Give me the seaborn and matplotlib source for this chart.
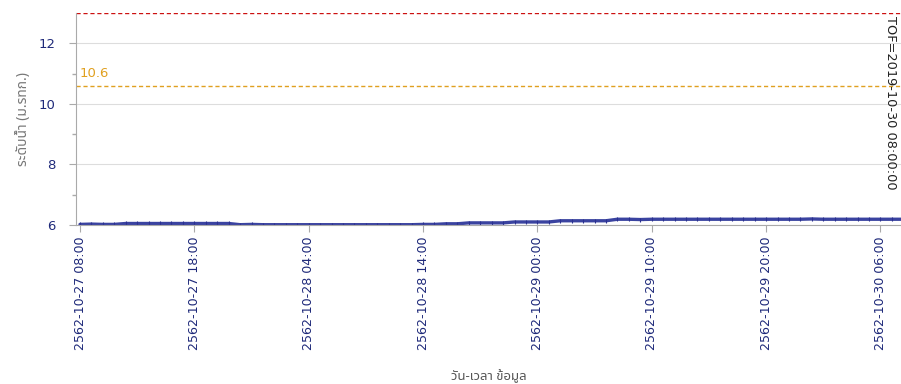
import numpy as np
import pandas as pd
import matplotlib
matplotlib.use("Agg")
import matplotlib.pyplot as plt
import seaborn as sns

# hourly water level readings, starting 2562-10-27 08:00
hours = list(range(0, 73))
levels = [
    6.02, 6.03, 6.02, 6.02, 6.05, 6.05, 6.05, 6.05, 6.05, 6.05,
    6.05, 6.05, 6.05, 6.05, 6.01, 6.02, 6.01, 6.01, 6.01, 6.01,
    6.01, 6.01, 6.01, 6.01, 6.01, 6.01, 6.01, 6.01, 6.01, 6.01,
    6.02, 6.02, 6.04, 6.04, 6.07, 6.07, 6.07, 6.07, 6.10, 6.10,
    6.10, 6.10, 6.14, 6.14, 6.14, 6.14, 6.14, 6.19, 6.19, 6.18,
    6.19, 6.19, 6.19, 6.19, 6.19, 6.19, 6.19, 6.19, 6.19, 6.19,
    6.19, 6.19, 6.19, 6.19, 6.20, 6.19, 6.19, 6.19, 6.19, 6.19,
    6.19, 6.19, 6.19,
]
tick_hours = [0, 10, 20, 30, 40, 50, 60, 70]
tick_labels = [
    "2562-10-27 08:00", "2562-10-27 18:00", "2562-10-28 04:00",
    "2562-10-28 14:00", "2562-10-29 00:00", "2562-10-29 10:00",
    "2562-10-29 20:00", "2562-10-30 06:00",
]
bank_level = 13.0
warn_level = 10.6
tof_text = "TOF=2019-10-30 08:00:00"

sns.set_theme(style="white")
plt.rcParams['font.family'] = ['DejaVu Sans', 'Noto Sans Thai']
thai_font = ['Noto Sans Thai', 'DejaVu Sans']

df = pd.DataFrame({'hour': hours, 'level': levels})

fig = plt.figure(figsize=(9.01, 3.84), dpi=100)
ax = fig.add_axes([76 / 901, 1 - 225 / 384, 825 / 901, 212 / 384])

sns.lineplot(data=df, x='hour', y='level', ax=ax, color='#3a43a0',
             linewidth=2.4, marker='|', markersize=3, markeredgewidth=0.8,
             markeredgecolor='#2a3090')

ax.axhline(bank_level, color='#cc1111', linestyle=(0, (3, 2)), linewidth=1)
ax.axhline(warn_level, color='#e0a020', linestyle=(0, (3, 2)), linewidth=1)
ax.text(0.0, warn_level + 0.2, "10.6", color='#e0a020', fontsize=9.5,
        ha='left', va='bottom')
ax.text(70.85, 12.9, tof_text, rotation=-90, fontsize=9.3, color='#222222',
        ha='center', va='top')

ax.set_xlim(-0.35, 71.8)
ax.set_ylim(6, 13)
ax.set_yticks([6, 8, 10, 12])
ax.set_yticks([7, 9, 11], minor=True)
ax.set_xticks(tick_hours)
ax.set_xticklabels(tick_labels, rotation=90)
ax.tick_params(axis='both', colors='#aaaaaa', labelcolor='#1f2a7a',
               labelsize=9.5, length=5, width=0.8, direction='out')
ax.tick_params(axis='x', labelsize=9.1)
ax.tick_params(axis='y', pad=10)
ax.tick_params(axis='y', which='minor', length=3, colors='#aaaaaa', left=True)
ax.tick_params(axis='x', bottom=True)
ax.tick_params(axis='y', left=True)
ax.grid(axis='y', color='#dddddd', linewidth=0.8)

for side in ['top', 'right']:
    ax.spines[side].set_visible(False)
for side in ['left', 'bottom']:
    ax.spines[side].set_color('#aaaaaa')
    ax.spines[side].set_linewidth(0.8)

ax.set_xlabel("วัน-เวลา ข้อมูล", color='#555555', fontsize=9.5, labelpad=14,
              family=thai_font)
ax.set_ylabel("ระดับน้ำ (ม.รทก.)", color='#777777', fontsize=10, labelpad=5,
              family=thai_font)

plt.savefig("out.png", dpi=100)
